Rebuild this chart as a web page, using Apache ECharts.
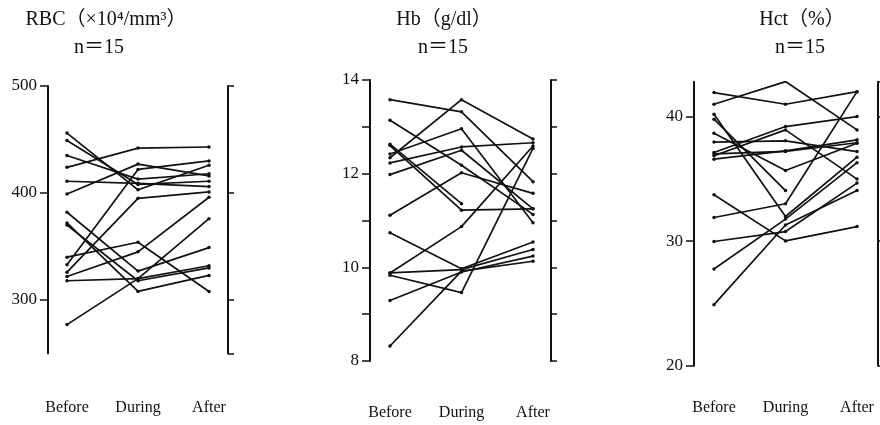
<!DOCTYPE html>
<html>
<head>
<meta charset="utf-8">
<script src="https://cdn.jsdelivr.net/npm/echarts@6/dist/echarts.min.js"></script>
<style>
  html, body { margin: 0; padding: 0; background: #fff; }
  #chart { width: 880px; height: 425px; }
</style>
</head>
<body>
<div id="chart"></div>
<script>
// categories on every panel
var categories = ['Before', 'During', 'After'];

// RBC (x10^4/mm3), one entry per patient
var rbcBefore = [424, 456, 449, 435, 411, 399, 382, 372, 370, 340, 333, 326, 322, 318, 277];
var rbcDuring = [442, 403, 408, 413, 409, 427, 327, 308, 318, 354, 422, 395, 345, 320, 320];
var rbcAfter  = [443, 426, 411, 418, 406, 416, 349, 323, 330, 308, 430, 401, 396, 332, 376];

// Hb (g/dl)
var hbBefore = [13.58, 12.34, 13.14, 12.42, 12.23, 11.98, 12.63, 12.6, 11.11, 10.74, 9.88, 9.83, 9.88, 9.29, 8.32];
var hbDuring = [13.32, 13.58, 12.18, 12.96, 12.57, 12.5, 11.36, 11.22, 12.02, 9.97, 10.87, 9.46, 9.95, 9.9, 9.92];
var hbAfter  = [11.83, 12.74, 11.13, 10.95, 12.66, 11.25, null, 11.25, 11.58, 10.54, 12.59, 12.54, 10.38, 10.24, 10.13];

// Hct (%)
var hctBefore = [41.93, 40.99, 40.19, 39.79, 38.67, 37.95, 37.11, 36.85, 36.58, 33.72, 31.9, 29.97, 27.76, 24.9, 37.0];
var hctDuring = [40.99, 42.81, 31.98, 34.06, 35.67, 38.05, 39.2, 38.93, 37.25, 30.02, 33.0, 30.77, 31.77, 31.3, 37.2];
var hctAfter  = [42.0, 38.93, 36.74, null, 37.86, 37.19, 40.0, 34.98, 38.13, 31.17, 42.0, 34.66, 36.3, 34.06, 37.9];

// tick labels
var rbcLabels = [300, 400, 500];
var hbLabels = [8, 10, 12, 14];
var hctLabels = [20, 30, 40];
var hbTicks = [8, 9, 10, 11, 12, 13, 14];

var titles = ['RBC（×10⁴/mm³）', 'Hb（g/dl）', 'Hct（%）'];
var nText = 'n＝15';

var SERIF = '"Liberation Serif", "DejaVu Serif", "Noto Sans CJK JP", serif';
var INK = '#111';

var panels = [
    {before: rbcBefore, during: rbcDuring, after: rbcAfter, min: 250, max: 500,
     labels: rbcLabels, ticks: rbcLabels, rTicks: [250, 300, 400, 500],
     left: 67, width: 142, top: 86, height: 267.5, lOff: 19, rOff: 19, catMargin: 46,
     tx: 101, nx: 94},
    {before: hbBefore, during: hbDuring, after: hbAfter, min: 8, max: 14,
     labels: hbLabels, ticks: hbTicks, rTicks: hbTicks,
     left: 390, width: 143, top: 80, height: 281, lOff: 20, rOff: 18, catMargin: 44,
     tx: 439, nx: 438},
    {before: hctBefore, during: hctDuring, after: hctAfter, min: 20, max: 42.8,
     labels: hctLabels, ticks: hctLabels, rTicks: [20, 30, 40, 42.8],
     left: 714, width: 143, top: 81.7, height: 284, lOff: 20, rOff: 21, catMargin: 34,
     tx: 797, nx: 795}
];

var grids = [], xAxes = [], yAxes = [], series = [], titleList = [];

panels.forEach(function (p, k) {
    grids.push({left: p.left, width: p.width, top: p.top, height: p.height});
    xAxes.push({
        type: 'category', gridIndex: k, data: categories, boundaryGap: false,
        axisLine: {show: false}, axisTick: {show: false}, splitLine: {show: false},
        axisLabel: {fontFamily: SERIF, fontSize: 16, color: INK, margin: p.catMargin}
    });
    // left axis with labels
    yAxes.push({
        type: 'value', gridIndex: k, position: 'left', offset: p.lOff,
        min: p.min, max: p.max, splitLine: {show: false},
        axisLine: {show: true, lineStyle: {color: INK, width: 2}},
        axisTick: {show: true, length: 8, customValues: p.ticks, lineStyle: {color: INK, width: 1.5}},
        axisLabel: {customValues: p.labels, fontFamily: SERIF, fontSize: 17, color: INK, margin: 11}
    });
    // right bracket, no labels, ticks pointing outwards
    yAxes.push({
        type: 'value', gridIndex: k, position: 'right', offset: p.rOff,
        min: p.min, max: p.max, splitLine: {show: false},
        axisLine: {show: true, lineStyle: {color: INK, width: 2}},
        axisTick: {show: true, inside: false, length: 6, customValues: p.rTicks, lineStyle: {color: INK, width: 1.5}},
        axisLabel: {show: false}
    });
    for (var i = 0; i < p.before.length; i++) {
        series.push({
            type: 'line', xAxisIndex: k, yAxisIndex: k * 2,
            data: [p.before[i], p.during[i], p.after[i]],
            symbol: 'circle', symbolSize: 3.5, showSymbol: true,
            lineStyle: {color: INK, width: 1.7},
            itemStyle: {color: INK},
            emphasis: {disabled: true},
            silent: true
        });
    }
    titleList.push({
        text: titles[k], left: p.tx, top: 5, textAlign: 'center',
        textStyle: {fontFamily: SERIF, fontSize: 20, fontWeight: 'normal', color: INK}
    });
    titleList.push({
        text: nText, left: p.nx, top: 33, textAlign: 'center',
        textStyle: {fontFamily: SERIF, fontSize: 20, fontWeight: 'normal', color: INK}
    });
});

var chart = echarts.init(document.getElementById('chart'));
chart.setOption({
    backgroundColor: '#fff',
    animation: false,
    title: titleList,
    grid: grids,
    xAxis: xAxes,
    yAxis: yAxes,
    series: series
});
</script>
</body>
</html>
